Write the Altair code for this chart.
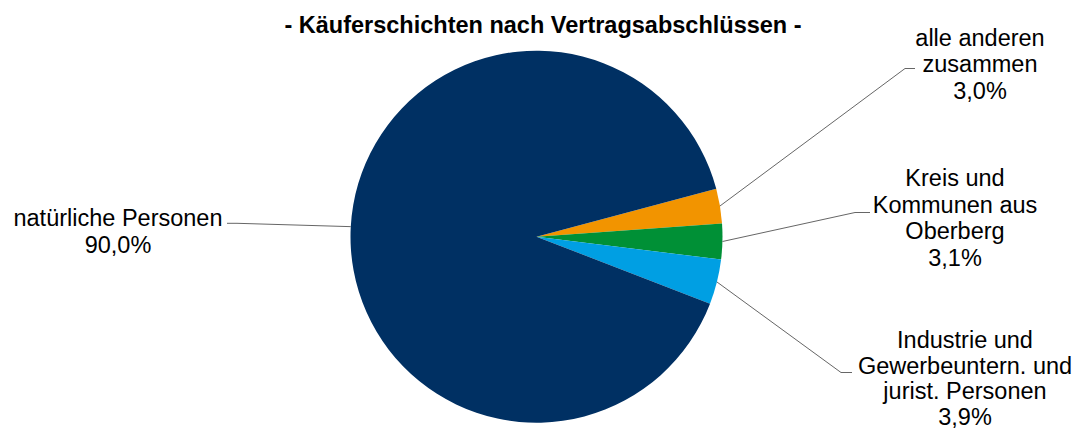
import math
import altair as alt
import pandas as pd

# ---- data ----
categories = [
    "alle anderen zusammen",
    "Kreis und Kommunen aus Oberberg",
    "Industrie und Gewerbeuntern. und jurist. Personen",
    "natürliche Personen",
]
shares = [3.0, 3.1, 3.9, 90.0]
label_words = [
    ["alle anderen", "zusammen"],
    ["Kreis und", "Kommunen aus", "Oberberg"],
    ["Industrie und", "Gewerbeuntern. und", "jurist. Personen"],
    ["natürliche Personen"],
]
colors = ["#F29400", "#009036", "#009FE3", "#003063"]
title_text = "- Käuferschichten nach Vertragsabschlüssen -"

# ---- layout (chart pixel coordinates) ----
W, H = 1067, 423
CX, CY = 528.5, 228.7
R = 186
START = math.radians(75.1)
label_x = [972, 947, 957, 110]
label_y0 = [37.5, 178, 340, 218]
line_h = [26.5, 26.5, 25.5, 26.5]
elbows = [[(897, 60.5), (907, 60.5)],
          [(847, 204.5), (862, 204.5)],
          [(833, 364.5), (844, 364.5)],
          [(229, 215.3), (219, 215.3)]]

idx = list(range(len(categories)))
pie_df = pd.DataFrame({"cat": categories, "share": shares, "idx": idx})

# leader lines: start on the pie edge at the slice's mid angle
total = sum(shares)
rows = []
cum = 0.0
for i, (c, v) in enumerate(zip(categories, shares)):
    mid = START + (cum + v / 2) / total * 2 * math.pi
    cum += v
    pts = [(CX + R * math.sin(mid), CY - R * math.cos(mid))] + elbows[i]
    for k, (px, py) in enumerate(pts):
        rows.append({"cat": c, "k": k, "x": px, "y": py})
lead_df = pd.DataFrame(rows)

# labels
lrows = []
for i, (words, v) in enumerate(zip(label_words, shares)):
    lines = words + [f"{v:.1f}".replace(".", ",") + "%"]
    for j, t in enumerate(lines):
        lrows.append({"t": t, "x": label_x[i], "y": label_y0[i] + j * line_h[i]})
lab_df = pd.DataFrame(lrows)

title_df = pd.DataFrame({"t": [title_text], "x": [535], "y": [24.5]})

pie = alt.Chart(pie_df).mark_arc(outerRadius=R).encode(
    theta=alt.Theta("share:Q", stack=True,
                    scale=alt.Scale(range=[START, START + 2 * math.pi])),
    color=alt.Color("cat:N", scale=alt.Scale(domain=categories, range=colors), legend=None),
    order=alt.Order("idx:Q"),
    x=alt.value(CX),
    y=alt.value(CY),
)

leaders = alt.Chart(lead_df).mark_line(color="#666666", strokeWidth=1).encode(
    x=alt.X("x:Q", scale=None, axis=None),
    y=alt.Y("y:Q", scale=None, axis=None),
    detail="cat:N",
    order="k:Q",
)

labels = alt.Chart(lab_df).mark_text(
    font="Liberation Sans", fontSize=23.5, align="center", baseline="alphabetic", color="#000000"
).encode(
    x=alt.X("x:Q", scale=None, axis=None),
    y=alt.Y("y:Q", scale=None, axis=None),
    text="t:N",
)

title = alt.Chart(title_df).mark_text(
    font="Liberation Sans", fontSize=23.5, fontWeight="bold", align="center",
    baseline="alphabetic", color="#000000"
).encode(
    x=alt.X("x:Q", scale=None, axis=None),
    y=alt.Y("y:Q", scale=None, axis=None),
    text="t:N",
)

chart = alt.layer(pie, leaders, labels, title).properties(
    width=W, height=H, padding=0, autosize="none", background="white"
).configure_view(stroke=None)

chart.save("out.html", embed_options={"renderer": "svg", "actions": False})
